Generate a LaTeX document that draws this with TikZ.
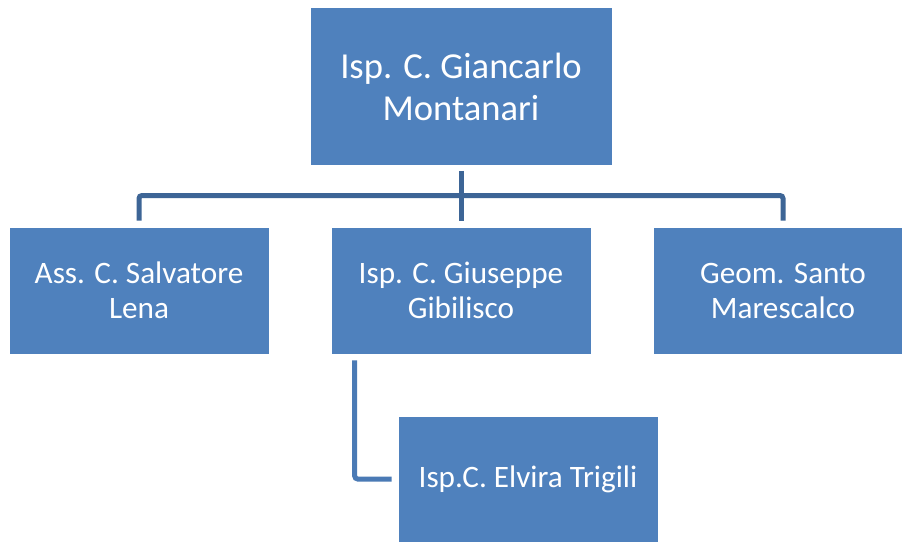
\documentclass[tikz,border=0pt]{standalone}
\usepackage{fontspec}
\setmainfont{Carlito}
\usetikzlibrary{calc}
\definecolor{boxfill}{HTML}{4F81BD}
\definecolor{linkdark}{HTML}{3D6596}
\definecolor{linklight}{HTML}{4A7AB5}
\tikzset{
  orgbox/.style={draw=white, line width=0.6pt, fill=boxfill, text=white,
    align=center, inner sep=0pt, minimum width=260pt, minimum height=127pt,
    font=\fontsize{31.2}{35}\selectfont},
  headbox/.style={orgbox, minimum width=302pt, minimum height=158pt,
    font=\fontsize{36.6}{42}\selectfont},
  conn/.style={draw=linkdark, line width=5pt, rounded corners=3pt},
  subconn/.style={draw=linklight, line width=5pt, rounded corners=3pt}
}
\begin{document}
\begin{tikzpicture}[x=1pt, y=-1pt]
  \useasboundingbox (0,0) rectangle (902,541);
  \clip (0,0) rectangle (902,541);
  \fill[white] (0,0) rectangle (902,541);

  % boxes
  \node[headbox] (top) at (461,86.5) {Isp. C. Giancarlo\\Montanari};
  \node[orgbox] (lft) at (139,290.5) {Ass. C. Salvatore\\Lena};
  \node[orgbox] (mid) at (461,290.5) {Isp. C. Giuseppe\\Gibilisco};
  \node[orgbox] (rgt) at (783,290.5) {Geom. Santo\\Marescalco};
  \node[orgbox, minimum height=126pt] (sub) at (528,479) {Isp.C. Elvira Trigili};

  % level bar between the head and its three reports
  \coordinate (bar) at (461,195.5);
  \draw[conn] ($(top.south)+(0,5)$) -- ($(mid.north)+(0,-6)$);
  \draw[conn] ($(lft.north)+(0,-6)$) |- (bar) -| ($(rgt.north)+(0,-6)$);

  % assistant link below the middle report
  \draw[subconn] ($(mid.south west)+(24,6)$) |- ($(sub.west)+(-6,0)$);
\end{tikzpicture}
\end{document}
